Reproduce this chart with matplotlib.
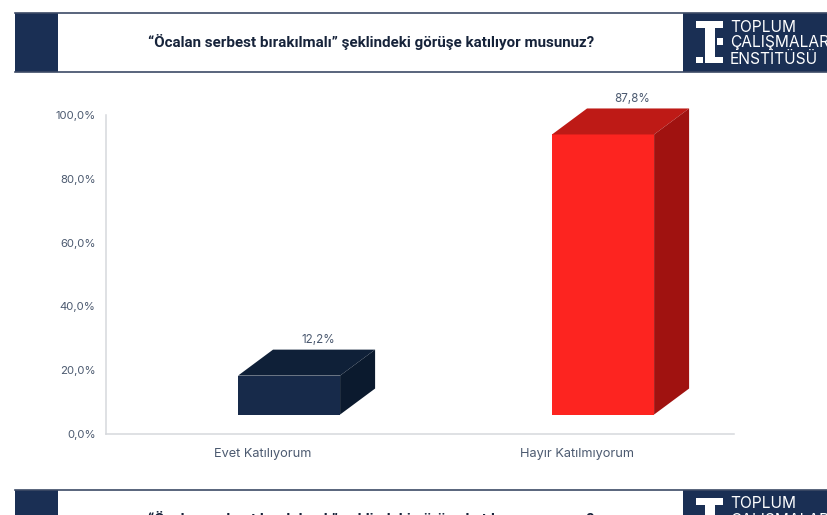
import matplotlib
matplotlib.use("Agg")
import matplotlib.pyplot as plt
from matplotlib.patches import Rectangle

# Data
categories = ["Evet Katılıyorum", "Hayır Katılmıyorum"]
values = [12.2, 87.8]
value_labels = ["12,2%", "87,8%"]
y_ticks = [0, 20, 40, 60, 80, 100]
y_tick_labels = ["0,0%", "20,0%", "40,0%", "60,0%", "80,0%", "100,0%"]
title = "“Öcalan serbest bırakılmalı” şeklindeki görüşe katılıyor musunuz?"
logo_lines = ["TOPLUM", "ÇALIŞMALAR", "ENSTİTÜSÜ"]

# Colours: front, top, side
NAVY = "#1a2f54"
TEXT = "#4c5a70"
bar_colors = [("#172a4a", "#0f2038", "#0b1a2e"), ("#fd2420", "#be1a16", "#a01210")]

W, H = 828, 515
fig = plt.figure(figsize=(W / 100, H / 100), dpi=100, facecolor="white")
plt.rcParams["font.family"] = "Inter"

# Header strips are laid out in picture pixels
bg = fig.add_axes([0, 0, 1, 1])
bg.set_xlim(0, W)
bg.set_ylim(H, 0)
bg.axis("off")


def header(top, height):
    bg.add_patch(Rectangle((15.5, top), W - 15.5, height, fc="white", ec="none"))
    bg.add_patch(Rectangle((15.5, top), 43, height, fc=NAVY, ec="none"))
    bg.add_patch(Rectangle((683, top), W - 683, height, fc=NAVY, ec="none"))
    bg.plot([15.5, W], [top, top], color="#3c4a66", lw=1.2)
    bg.plot([15.5, W], [top + height, top + height], color="#3c4a66", lw=1.2)
    # logo mark
    for x, y, w, h in [(696, 8, 27, 7), (705, 8, 10, 42), (717, 25, 6, 7),
                       (696, 44, 7, 6), (705, 44, 18, 6)]:
        bg.add_patch(Rectangle((x, top + y), w, h, fc="white", ec="none"))
    for line, dy in zip(logo_lines, [14, 30, 46]):
        bg.text(730, top + dy, line, color="white", fontsize=11.2, va="center",
                ha="left", family="Inter")
    bg.text(371, top + 29, title, color="#16233a", fontsize=10.9, weight="bold",
            ha="center", va="center", family="Roboto")


header(13, 59)
header(490, 60)

# Chart axes
x0, x1, y_top, y_bot = 106, 734, 115, 434
ax = fig.add_axes([x0 / W, 1 - y_bot / H, (x1 - x0) / W, (y_bot - y_top) / H])
ax.patch.set_alpha(0)
ax.set_xlim(-0.5, 1.5)
ax.set_ylim(0, 100)

# Fake 3D box sizes, in data units
offset_x, bar_w = 0.083, 0.325
depth_x, depth_y = 0.1115, 8.15
floor = 6.1

for i, (val, lab, (front, top, side)) in enumerate(zip(values, value_labels, bar_colors)):
    left = i + offset_x - bar_w / 2
    right = left + bar_w
    ax.bar(i + offset_x, val, bar_w, bottom=floor, color=front, zorder=3)
    up = floor + val
    ax.fill([left, right, right + depth_x, left + depth_x],
            [up, up, up + depth_y, up + depth_y], color=top, lw=0, clip_on=False, zorder=3)
    ax.fill([right, right + depth_x, right + depth_x, right],
            [floor, floor + depth_y, up + depth_y, up], color=side, lw=0, clip_on=False, zorder=3)
    ax.text(i + 0.175, up + depth_y + 1.2, lab, color=TEXT, fontsize=8.4, ha="center", va="bottom")

for s in ["top", "right"]:
    ax.spines[s].set_visible(False)
for s in ["left", "bottom"]:
    ax.spines[s].set_color("#d6d8dc")
    ax.spines[s].set_linewidth(1.1)

ax.set_xticks(range(len(categories)), categories, color=TEXT, fontsize=9.2)
ax.set_yticks(y_ticks, y_tick_labels, color=TEXT, fontsize=8.2)
ax.tick_params(length=0)
ax.tick_params(axis="x", pad=10)
ax.tick_params(axis="y", pad=7.5)

fig.savefig("out.png", dpi=100, facecolor="white")
